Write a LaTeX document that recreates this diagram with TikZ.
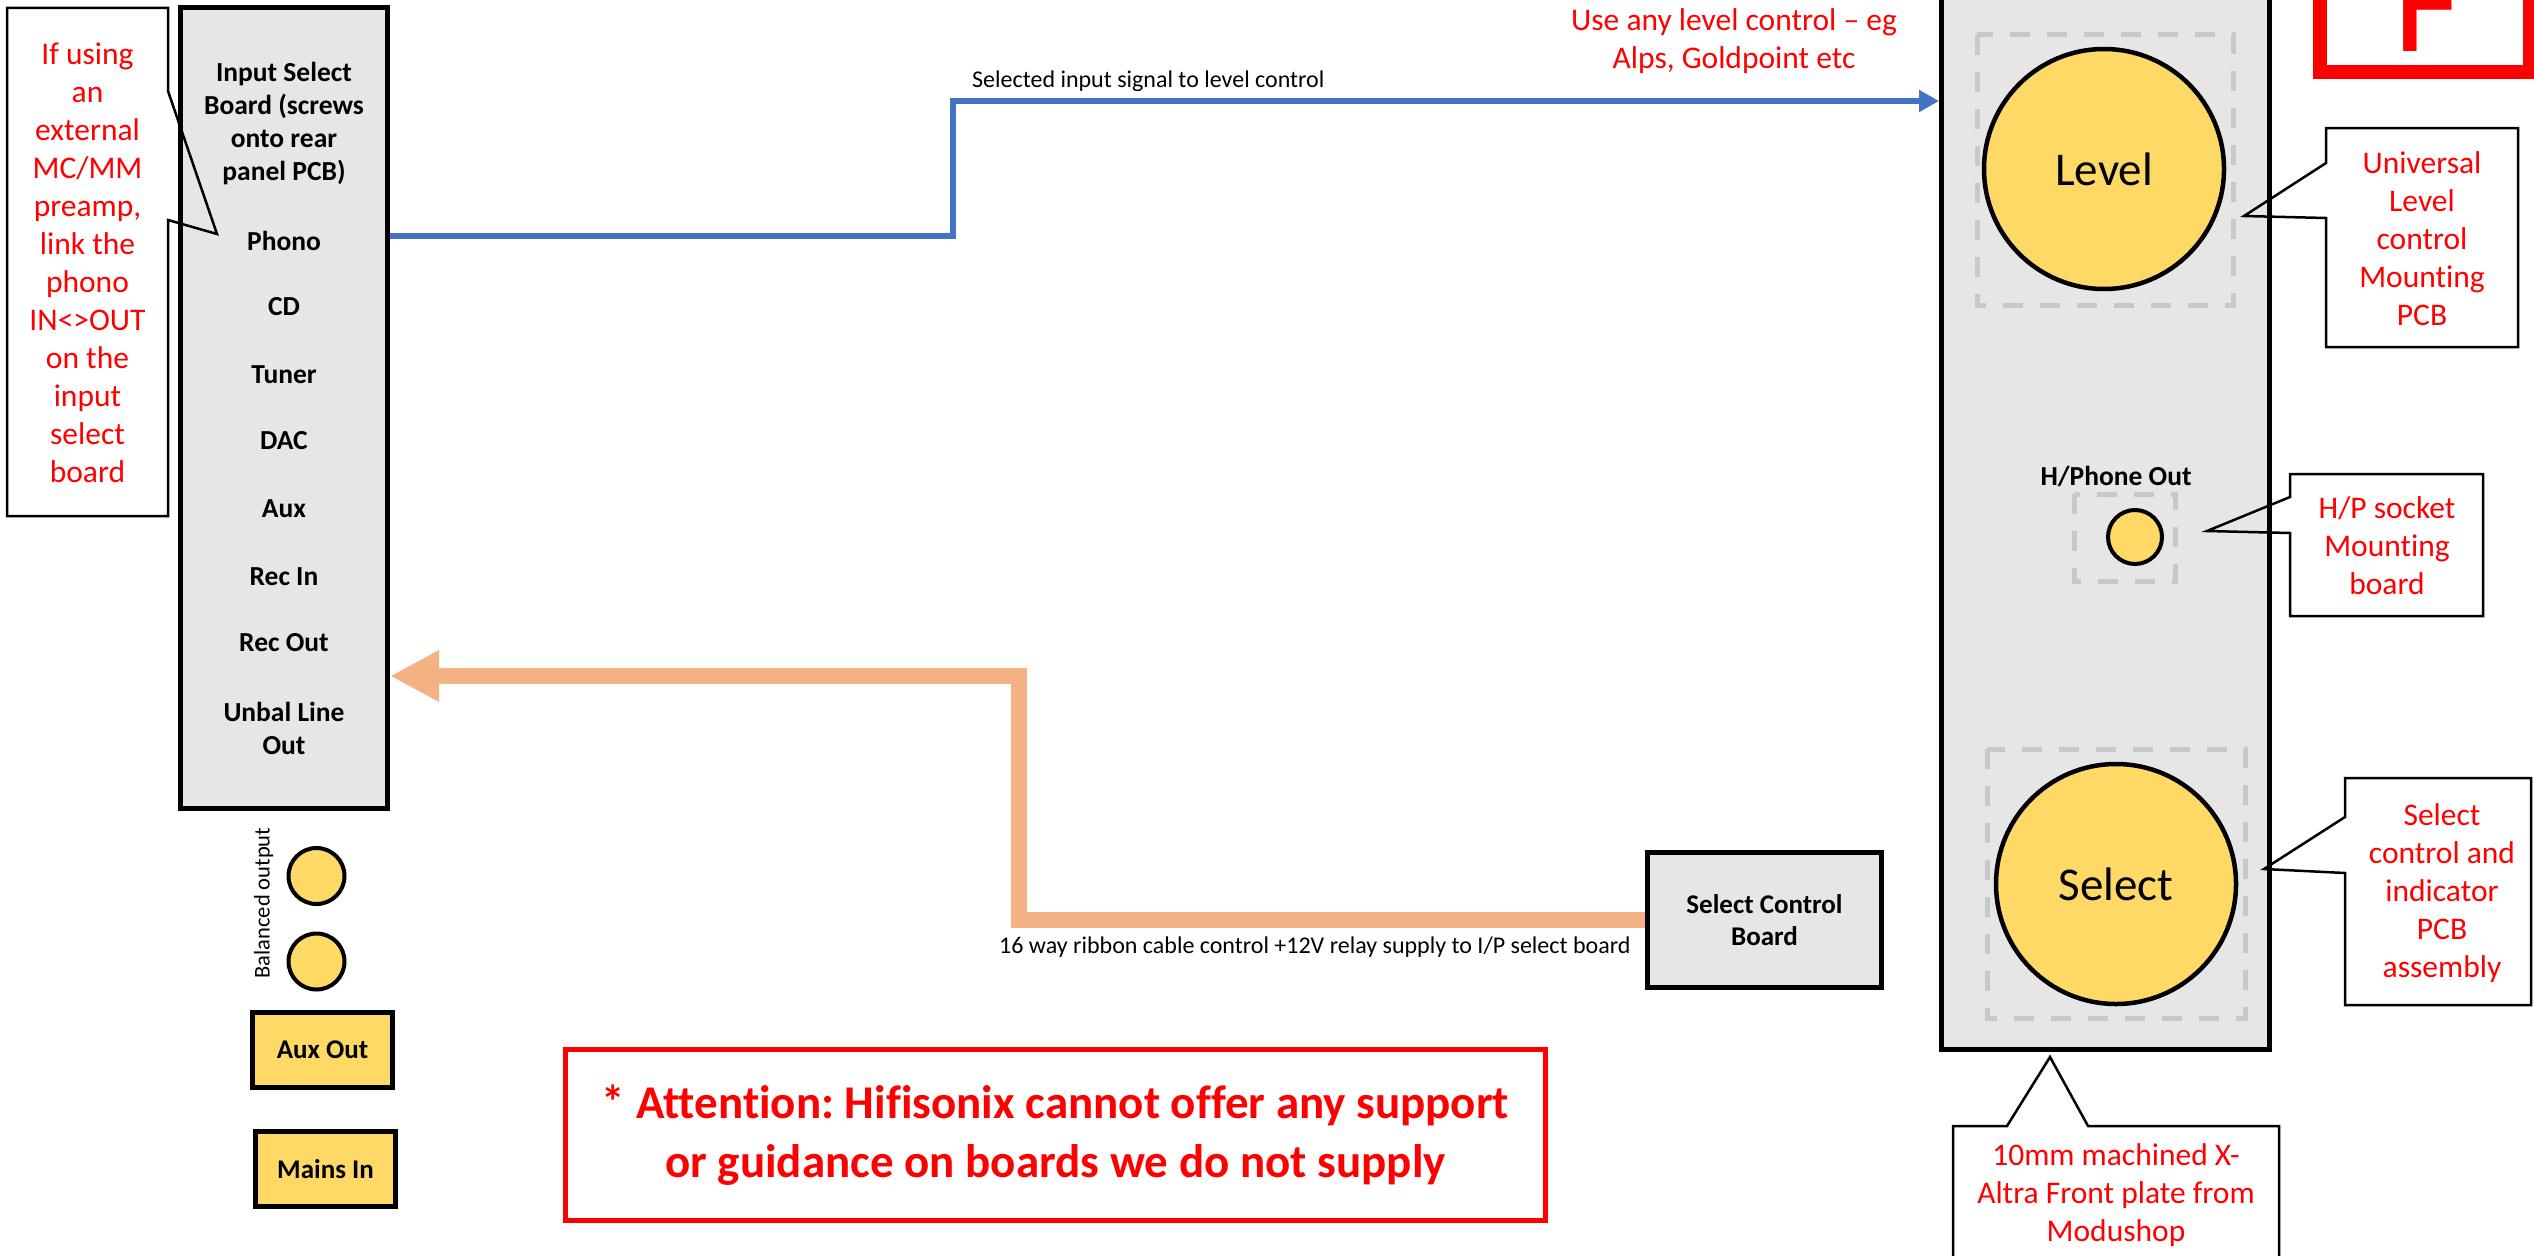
\documentclass[tikz,border=0pt]{standalone}
\usepackage{fontspec}
\setmainfont[Ligatures=NoCommon]{Carlito}
\usetikzlibrary{arrows.meta,backgrounds}
\frenchspacing

\definecolor{boardgray}{HTML}{E6E6E6}
\definecolor{knob}{HTML}{FFD966}
\definecolor{sigblue}{HTML}{4472C4}
\definecolor{ribbonorange}{HTML}{F4B183}
\definecolor{pcbdash}{HTML}{C8C8C8}
\definecolor{notered}{HTML}{FF0000}

\begin{document}
\begin{tikzpicture}[x=1pt, y=-1pt,
  panel/.style={draw=black, line width=5pt, fill=boardgray, inner sep=0pt},
  jack/.style={circle, draw=black, line width=4pt, fill=knob, inner sep=0pt},
  socketbox/.style={draw=black, line width=5pt, fill=knob, inner sep=0pt,
    minimum width=140pt, minimum height=75pt, font=\fontsize{27}{33}\selectfont\bfseries},
  boardlbl/.style={inner sep=0pt, font=\fontsize{27.5}{33}\selectfont\bfseries, align=center},
  calltext/.style={inner sep=0pt, text=notered, font=\fontsize{31.5}{38}\selectfont, align=center},
  calloutline/.style={draw=black, line width=2.5pt, line join=miter},
  pcbarea/.style={draw=pcbdash, line width=5pt, dash pattern=on 20pt off 17pt},
  wiretext/.style={inner sep=0pt, font=\fontsize{24}{28}\selectfont},
  knobtext/.style={font=\fontsize{47}{50}\selectfont},
]
\useasboundingbox (0,0) rectangle (2534,1255);
\clip (0,0) rectangle (2534,1255);

% ---------- rear panel: input select board ----------
\node[panel, minimum width=207pt, minimum height=800pt] (board) at (284,408) {};
\node[boardlbl] (title)  at (284,124) {Input Select\\Board (screws\\onto rear\\panel PCB)};
\node[boardlbl] (phono)  at (284,241) {Phono};
\node[boardlbl] (cd)     at (284,307) {CD};
\node[boardlbl] (tuner)  at (284,375) {Tuner};
\node[boardlbl] (dac)    at (284,441) {DAC};
\node[boardlbl] (aux)    at (284,509) {Aux};
\node[boardlbl] (recin)  at (284,577) {Rec In};
\node[boardlbl] (recout) at (284,643) {Rec Out};
\node[boardlbl] (unbal)  at (284,728) {Unbal Line\\Out};

% external preamp note
\draw[calloutline] (7,8) -- (168,8) -- (168,91) -- (217,234) -- (168,220) -- (168,516) -- (7,516) -- cycle;
\node[calltext] (extpre) at (87.5,263) {If using\\an\\external\\MC/MM\\preamp,\\link the\\phono\\IN<>OUT\\on the\\input\\select\\board};

% balanced outputs and rear sockets
\node[inner sep=0pt, rotate=90, font=\fontsize{22.5}{26}\selectfont] (ballbl) at (263.5,903) {Balanced output};
\node[jack, minimum size=56pt] (bal1) at (316.5,876) {};
\node[jack, minimum size=56pt] (bal2) at (316.5,961.5) {};
\node[socketbox] (auxout) at (322.5,1050) {Aux Out};
\node[socketbox] (mainsin) at (325.5,1169) {Mains In};

% ---------- select control board ----------
\node[panel, minimum width=234pt, minimum height=135pt, align=center,
      font=\fontsize{27}{32}\selectfont\bfseries] (scb) at (1764.5,920) {Select Control\\Board};

% ---------- front plate ----------
\node[panel, minimum width=328pt, minimum height=1090pt] (plate) at (2105.5,504.5) {};
\draw[pcbarea] (1977,35) rectangle (2233,305);
\node[jack, line width=4.5pt, minimum size=240pt, knobtext] (level) at (2104,169) {Level};
\node[boardlbl] (hplbl) at (2116,476) {H/Phone Out};
\draw[pcbarea] (2074,494) rectangle (2175,581);
\node[jack, minimum size=54pt] (hpjack) at (2135,537) {};
\draw[pcbarea] (1987,749) rectangle (2245,1018);
\node[jack, line width=4.5pt, minimum size=240pt, knobtext] (select) at (2116,884) {Select};

% level control note
\node[calltext] (levelnote) at (1734,41) {Use any level control – eg\\Alps, Goldpoint etc};

% front plate callouts
\draw[calloutline] (2326,128) -- (2518,128) -- (2518,347) -- (2326,347) -- (2326,218) -- (2244,216) -- (2326,163) -- cycle;
\node[calltext] (levelpcb) at (2422,238.5) {Universal\\Level\\control\\Mounting\\PCB};

\draw[calloutline] (2290,474) -- (2483,474) -- (2483,616) -- (2290,616) -- (2290,533) -- (2207,531) -- (2290,497) -- cycle;
\node[calltext] (hppcb) at (2387,546) {H/P socket\\Mounting\\board};

\draw[calloutline] (2345,778) -- (2531,778) -- (2531,1005) -- (2345,1005) -- (2345,873) -- (2264,869) -- (2345,817) -- cycle;
\node[calltext] (selpcb) at (2442,893) {Select\\control and\\indicator\\PCB\\assembly};

\draw[calloutline] (1953,1126) -- (2007,1126) -- (2050,1057) -- (2088,1126) -- (2279,1126) -- (2279,1300) -- (1953,1300) -- cycle;
\node[calltext] (platenote) at (2116,1195) {10mm machined X-\\Altra Front plate from\\Modushop};

% sheet marker
\draw[notered, line width=14pt] (2320,-60) rectangle (2530,72);
\node[anchor=base west, inner sep=0pt, text=notered, font=\fontsize{150}{150}\selectfont] (fmark) at (2393,52) {F};

% disclaimer
\node[draw=notered, line width=5pt, minimum width=980pt, minimum height=171pt, inner sep=0pt,
      text=notered, font=\fontsize{47}{59}\selectfont\bfseries, align=center] (attn) at (1055.5,1135)
      {* Attention: Hifisonix cannot offer any support\\or guidance on boards we do not supply};

% ---------- wiring ----------
\begin{scope}[on background layer]
  \draw[sigblue, line width=6.5pt, line join=miter, -{Triangle[length=20pt,width=21pt]}]
    (board.east |- 0,236) -| (953,101) -- (plate.west |- 0,101);
  \draw[ribbonorange, line width=16pt, line join=miter, -{Triangle[length=49pt,width=48pt]}]
    (scb.west |- 0,920) -| (1019,676) -- (board.east |- 0,676);
\end{scope}
\node[wiretext, anchor=west] (siglbl) at (972,81) {Selected input signal to level control};
\node[wiretext, anchor=west] (ribbonlbl) at (999,947) {16 way ribbon cable control +12V relay supply to I/P select board};

\end{tikzpicture}
\end{document}
